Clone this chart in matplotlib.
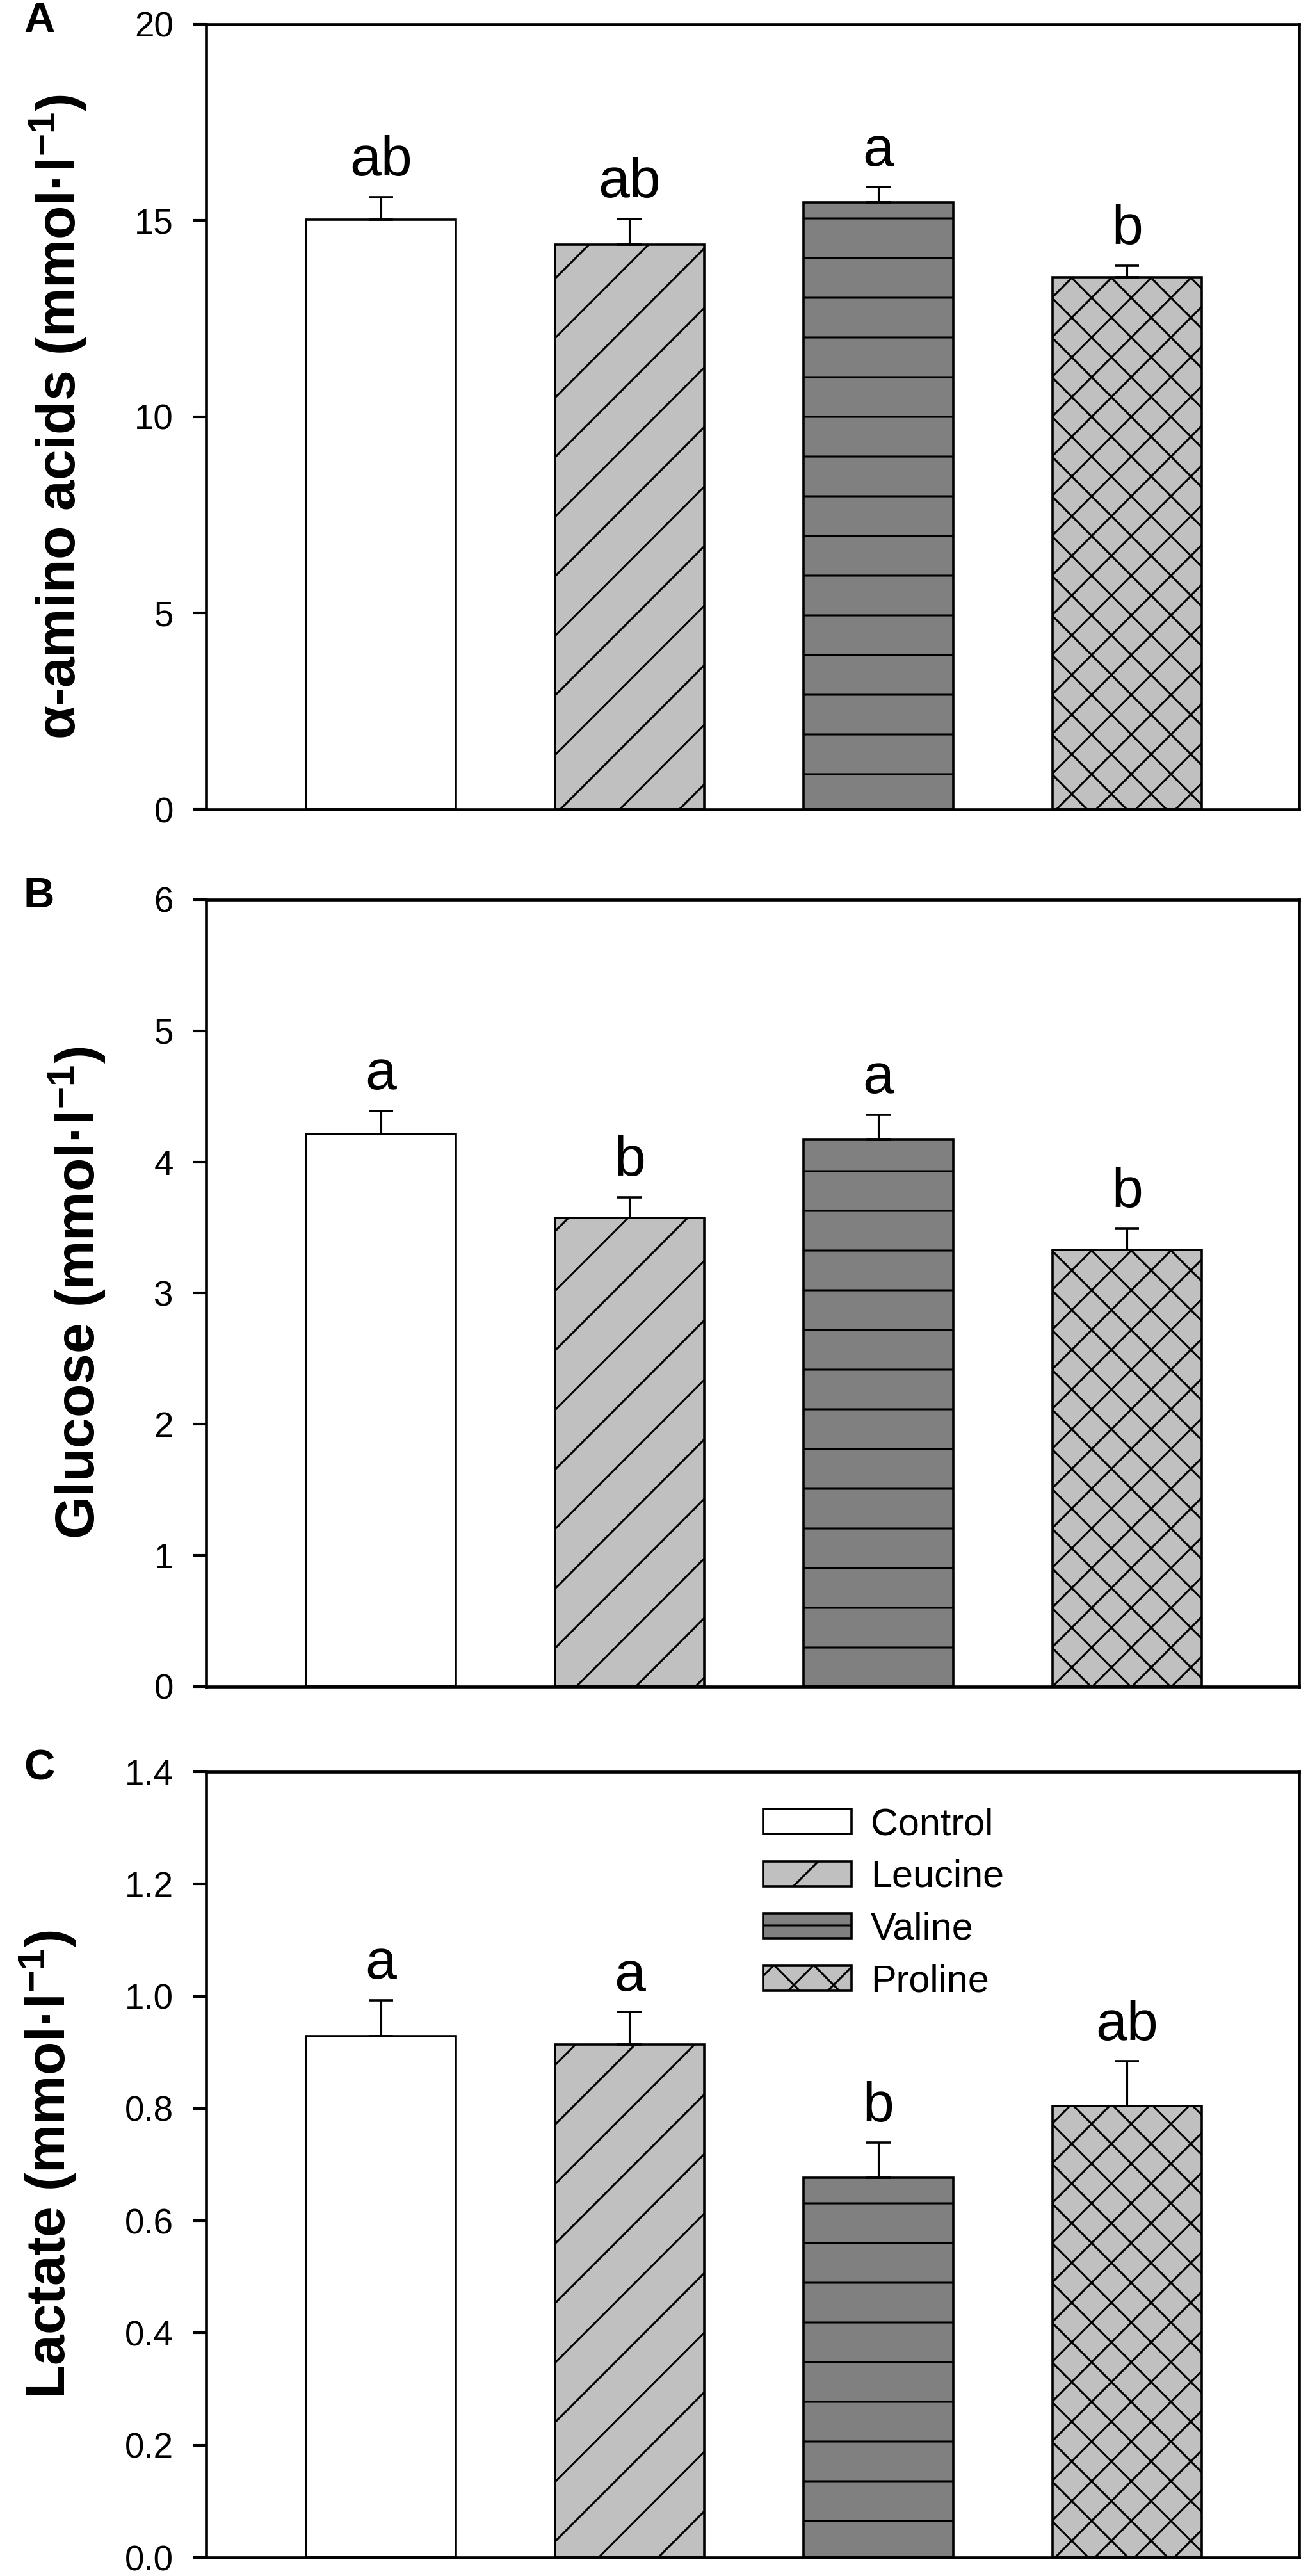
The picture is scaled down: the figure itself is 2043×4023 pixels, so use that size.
import matplotlib
matplotlib.use("Agg")
import matplotlib.pyplot as plt
import matplotlib.hatch as mhatch

# groups and bar styles
groups = ["Control", "Leucine", "Valine", "Proline"]
fills = ["white", "#c0c0c0", "#808080", "#c0c0c0"]
hatches = ["", "/", "-", "xx"]

# panel A: alpha-amino acids
amino_mean = [15.02, 14.39, 15.46, 13.56]
amino_err = [0.58, 0.65, 0.39, 0.29]
amino_letters = ["ab", "ab", "a", "b"]

# panel B: glucose
glucose_mean = [4.21, 3.575, 4.17, 3.33]
glucose_err = [0.18, 0.155, 0.19, 0.16]
glucose_letters = ["a", "b", "a", "b"]

# panel C: lactate
lactate_mean = [0.929, 0.914, 0.677, 0.805]
lactate_err = [0.064, 0.058, 0.062, 0.079]
lactate_letters = ["a", "a", "b", "ab"]

amino_ticks = [0, 5, 10, 15, 20]
glucose_ticks = [0, 1, 2, 3, 4, 5, 6]
lactate_ticks = [0.0, 0.2, 0.4, 0.6, 0.8, 1.0, 1.2, 1.4]


# the original figure has "/" lines a bit further apart than the "x" ones
class SparseNorthEast(mhatch.NorthEastHatch):
    def __init__(self, hatch, density):
        self.num_lines = int(hatch.count('/') * density * 4 / 3
                             + (hatch.count('x') + hatch.count('X')) * density)
        self.num_vertices = (self.num_lines + 1) * 2 if self.num_lines else 0


mhatch._hatch_types[mhatch._hatch_types.index(mhatch.NorthEastHatch)] = SparseNorthEast

plt.rcParams['font.family'] = ['Liberation Sans', 'DejaVu Sans']
plt.rcParams['mathtext.fontset'] = 'custom'
plt.rcParams['mathtext.rm'] = 'Liberation Sans:bold'
plt.rcParams['mathtext.it'] = 'Liberation Sans:bold'
plt.rcParams['mathtext.bf'] = 'Liberation Sans:bold'
plt.rcParams['mathtext.default'] = 'rm'
plt.rcParams['hatch.linewidth'] = 0.6
plt.rcParams['hatch.color'] = 'black'

DPI = 372
fig = plt.figure(figsize=(2044 / DPI, 4023 / DPI), dpi=DPI)

panels = [
    ("A", amino_mean, amino_err, amino_letters, amino_ticks, "%d",
     "α-amino acids (mmol·l$^{-1}$)", [0.1575, 0.6858, 0.8351, 0.3048]),
    ("B", glucose_mean, glucose_err, glucose_letters, glucose_ticks, "%d",
     "Glucose (mmol·l$^{-1}$)", [0.1575, 0.3453, 0.8351, 0.3055]),
    ("C", lactate_mean, lactate_err, lactate_letters, lactate_ticks, "%.1f",
     "Lactate (mmol·l$^{-1}$)", [0.1575, 0.0072, 0.8351, 0.3050]),
]

x = [1, 2, 3, 4]

for tag, mean, err, letters, ticks, fmt, ylabel, pos in panels:
    ax = fig.add_axes(pos)
    for i in range(4):
        ax.bar(x[i], mean[i], width=0.6, color=fills[i], hatch=hatches[i],
               edgecolor='black', linewidth=0.7, label=groups[i], zorder=2)
    ax.errorbar(x, mean, yerr=[[0] * 4, err], fmt='none', ecolor='black',
                elinewidth=0.6, capsize=3.7, capthick=0.7, zorder=3)
    for i in range(4):
        ax.annotate(letters[i], (x[i], mean[i] + err[i]), xytext=(0, 6.5),
                    textcoords='offset points', ha='center', va='baseline',
                    fontsize=17)

    ax.set_xlim(0.297, 4.691)
    ax.set_ylim(ticks[0], ticks[-1])
    ax.set_yticks(ticks)
    ax.set_yticklabels([fmt % t for t in ticks])
    ax.set_xticks([])
    ax.tick_params(axis='y', direction='out', length=3.9, width=0.8,
                   pad=6, labelsize=10.6)
    for s in ax.spines.values():
        s.set_linewidth(0.9)
    ax.set_ylabel(ylabel, fontsize=16.6, fontweight='bold', labelpad=14)

    fig.text(37 / 2044, pos[1] + pos[3] + 0.0012, tag, fontsize=13,
             fontweight='bold', ha='left', va='center')

    if tag == "C":
        ax.legend(loc='upper left', bbox_to_anchor=(0.51, 0.955),
                  frameon=False, fontsize=11.5, borderpad=0, borderaxespad=0,
                  handlelength=2.32, handleheight=0.63, handletextpad=0.5,
                  labelspacing=0.45)

fig.savefig("out.png", dpi=DPI)
